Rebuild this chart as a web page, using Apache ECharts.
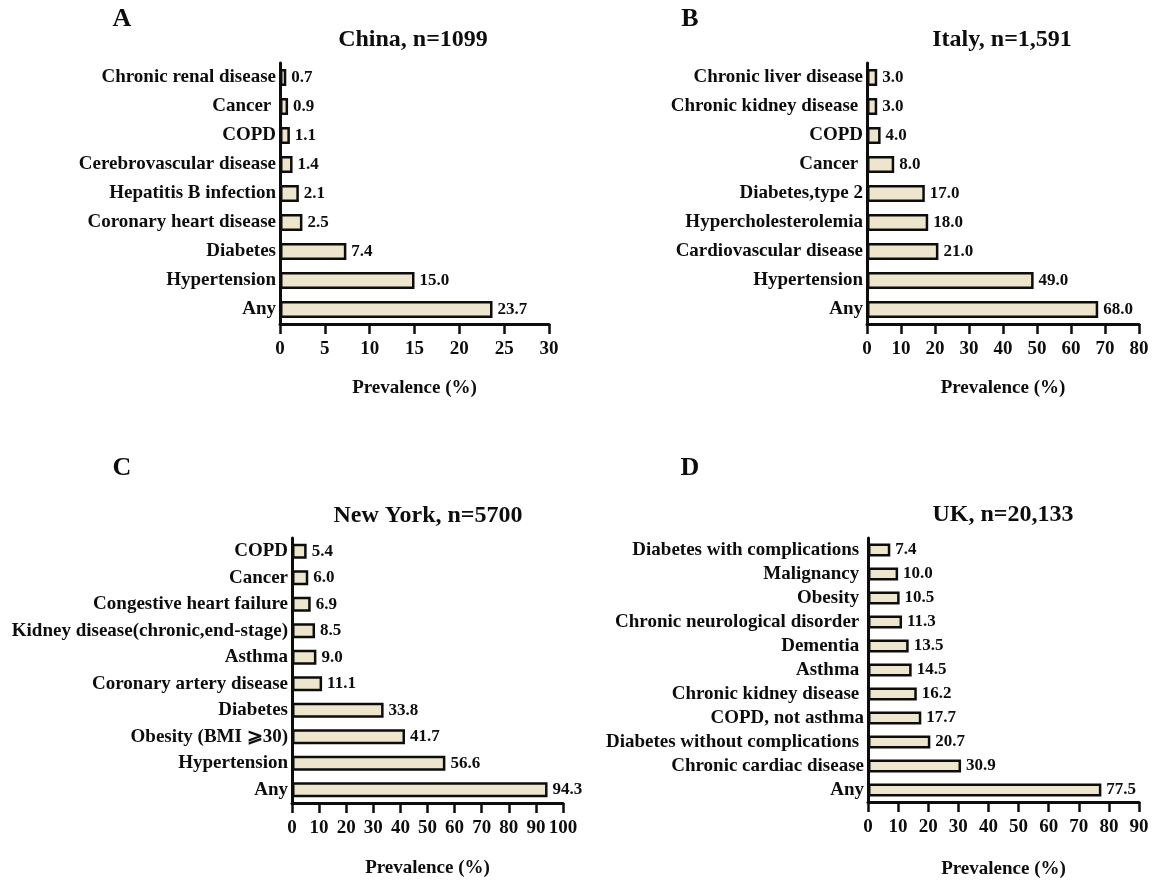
<!DOCTYPE html>
<html>
<head>
<meta charset="utf-8">
<script src="https://cdn.jsdelivr.net/npm/echarts@6/dist/echarts.min.js"></script>
<style>
html,body{margin:0;padding:0;background:#fff;}
#chart{width:1153px;height:880px;}
</style>
</head>
<body>
<div id="chart"></div>
<script>
// Panel A — China
const catsA = ['Chronic renal disease', 'Cancer ', 'COPD', 'Cerebrovascular disease', 'Hepatitis B infection', 'Coronary heart disease', 'Diabetes', 'Hypertension', 'Any'];
const valsA = [0.7, 0.9, 1.1, 1.4, 2.1, 2.5, 7.4, 15.0, 23.7];
// Panel B — Italy
const catsB = ['Chronic liver disease', 'Chronic kidney disease ', 'COPD', 'Cancer ', 'Diabetes,type 2', 'Hypercholesterolemia', 'Cardiovascular disease', 'Hypertension', 'Any'];
const valsB = [3.0, 3.0, 4.0, 8.0, 17.0, 18.0, 21.0, 49.0, 68.0];
// Panel C — New York
const catsC = ['COPD', 'Cancer', 'Congestive heart failure', 'Kidney disease(chronic,end-stage)', 'Asthma', 'Coronary artery disease', 'Diabetes', 'Obesity (BMI \u2A7E30)', 'Hypertension', 'Any'];
const valsC = [5.4, 6.0, 6.9, 8.5, 9.0, 11.1, 33.8, 41.7, 56.6, 94.3];
// Panel D — UK
const catsD = ['Diabetes with complications ', 'Malignancy ', 'Obesity ', 'Chronic neurological disorder ', 'Dementia ', 'Asthma ', 'Chronic kidney disease ', 'COPD, not asthma', 'Diabetes without complications ', 'Chronic cardiac disease', 'Any'];
const valsD = [7.4, 10.0, 10.5, 11.3, 13.5, 14.5, 16.2, 17.7, 20.7, 30.9, 77.5];

const titles = ['China, n=1099', 'Italy, n=1,591', 'New York, n=5700', 'UK, n=20,133'];
const letters = ['A', 'B', 'C', 'D'];
const axisMax = [30, 80, 100, 90];
const axisInterval = [5, 10, 10, 10];
const xName = 'Prevalence (%)';

const FONT = '"Liberation Serif", "Times New Roman", serif';
const INK = '#0d0d0d';
const FILL = '#ede6cd';

const panels = [
  {cats: catsA, vals: valsA, grid: {left: 280, top: 63, width: 269, height: 261}, barW: 17, nameGap: 55, titleX: 413, titleY: 40, letterX: 122, letterY: 19},
  {cats: catsB, vals: valsB, grid: {left: 867, top: 63, width: 272, height: 261}, barW: 17, nameGap: 55, titleX: 1002, titleY: 40, letterX: 690, letterY: 19},
  {cats: catsC, vals: valsC, grid: {left: 292, top: 538, width: 271, height: 265}, barW: 15, nameGap: 56, titleX: 428, titleY: 516, letterX: 122, letterY: 468},
  {cats: catsD, vals: valsD, grid: {left: 868, top: 538, width: 271, height: 265}, barW: 13, nameGap: 58, titleX: 1003, titleY: 515, letterX: 690, letterY: 468}
];

const option = {
  animation: false,
  backgroundColor: '#fff',
  grid: [], xAxis: [], yAxis: [], series: [], graphic: []
};

panels.forEach((p, i) => {
  option.grid.push(Object.assign({containLabel: false}, p.grid));
  option.xAxis.push({
    type: 'value', gridIndex: i, min: 0, max: axisMax[i], interval: axisInterval[i],
    name: xName, nameLocation: 'middle', nameGap: p.nameGap,
    nameTextStyle: {fontFamily: FONT, fontWeight: 'bold', fontSize: 19, color: INK},
    axisLine: {show: true, lineStyle: {color: INK, width: 3}},
    axisTick: {show: true, length: 10, lineStyle: {color: INK, width: 2.5}},
    axisLabel: {margin: 16, fontFamily: FONT, fontWeight: 'bold', fontSize: 19, color: INK},
    splitLine: {show: false}
  });
  option.yAxis.push({
    type: 'category', gridIndex: i, data: p.cats, inverse: true,
    axisLine: {show: true, lineStyle: {color: INK, width: 3}},
    axisTick: {show: false},
    axisLabel: {interval: 0, margin: 4, fontFamily: FONT, fontWeight: 'bold', fontSize: 19, color: INK},
    splitLine: {show: false}
  });
  option.series.push({
    type: 'bar', xAxisIndex: i, yAxisIndex: i, data: p.vals, barWidth: p.barW,
    itemStyle: {color: FILL, borderColor: INK, borderWidth: 2.5},
    label: {show: true, position: 'right', distance: 5, fontFamily: FONT, fontWeight: 'bold', fontSize: 17, color: INK,
      formatter: (d) => Number(d.value).toFixed(1)}
  });
  option.graphic.push({
    type: 'text', x: p.titleX, y: p.titleY,
    style: {text: titles[i], font: 'bold 24px ' + FONT, fill: INK, textAlign: 'center', textVerticalAlign: 'middle'}
  });
  option.graphic.push({
    type: 'text', x: p.letterX, y: p.letterY,
    style: {text: letters[i], font: 'bold 26px ' + FONT, fill: INK, textAlign: 'center', textVerticalAlign: 'middle'}
  });
});

const chart = echarts.init(document.getElementById('chart'), null, {renderer: 'canvas'});
chart.setOption(option);
</script>
</body>
</html>
